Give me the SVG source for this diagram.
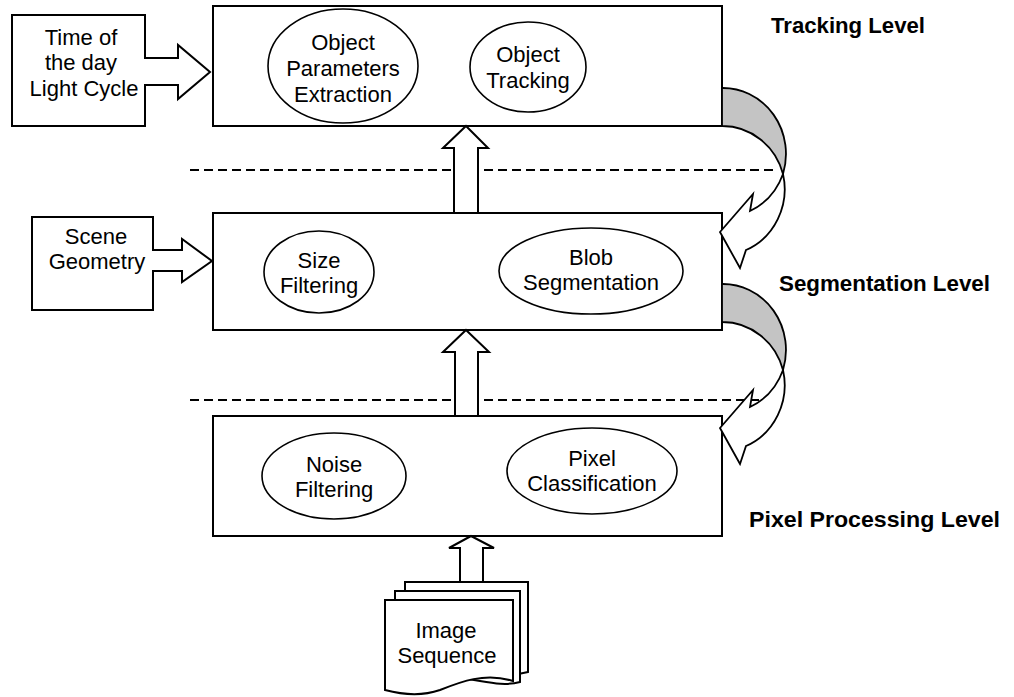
<svg xmlns="http://www.w3.org/2000/svg" width="1014" height="697" viewBox="0 0 1014 697">
<style>
.box{fill:#fff;stroke:#000;stroke-width:2}
.ell{fill:#fff;stroke:#000;stroke-width:1.6}
.blk{fill:#fff;stroke:#000;stroke-width:2;stroke-linejoin:miter}
.t{font-family:"Liberation Sans",Arial,sans-serif;font-size:22px;fill:#000;text-anchor:middle}
.lv{font-family:"Liberation Sans",Arial,sans-serif;font-size:22px;font-weight:bold;fill:#000}
.dash{stroke:#000;stroke-width:2;stroke-dasharray:9 5;fill:none}
.back{fill:#c4c4c4;stroke:#000;stroke-width:1.8}
.front{fill:#fff;stroke:#000;stroke-width:1.8;stroke-linejoin:miter}
</style>
<g id="separators">
<line class="dash" x1="190" y1="170" x2="775" y2="170"/>
<line class="dash" x1="190" y1="400" x2="775" y2="400"/>
</g>
<g id="tracking-level">
<rect class="box" x="213" y="6" width="509" height="120"/>
<g id="object-parameters-extraction">
<ellipse class="ell" cx="343" cy="66" rx="75" ry="57"/>
<text class="t" x="343" y="50">Object</text>
<text class="t" x="343" y="76">Parameters</text>
<text class="t" x="343" y="102">Extraction</text>
</g>
<g id="object-tracking">
<ellipse class="ell" cx="528" cy="67" rx="58" ry="45"/>
<text class="t" x="528" y="62">Object</text>
<text class="t" x="528" y="88">Tracking</text>
</g>
</g>
<g id="segmentation-level">
<rect class="box" x="213" y="213" width="509" height="117"/>
<g id="size-filtering">
<ellipse class="ell" cx="319" cy="272" rx="55" ry="41"/>
<text class="t" x="319" y="268">Size</text>
<text class="t" x="319" y="293">Filtering</text>
</g>
<g id="blob-segmentation">
<ellipse class="ell" cx="591" cy="271" rx="92" ry="43"/>
<text class="t" x="591" y="265">Blob</text>
<text class="t" x="591" y="290">Segmentation</text>
</g>
</g>
<g id="pixel-processing-level">
<rect class="box" x="213" y="416" width="509" height="120"/>
<g id="noise-filtering">
<ellipse class="ell" cx="334" cy="476" rx="72" ry="43"/>
<text class="t" x="334" y="472">Noise</text>
<text class="t" x="334" y="497">Filtering</text>
</g>
<g id="pixel-classification">
<ellipse class="ell" cx="592" cy="471" rx="85" ry="43"/>
<text class="t" x="592" y="466">Pixel</text>
<text class="t" x="592" y="491">Classification</text>
</g>
</g>
<g id="time-of-day">
<path class="blk" d="M12,15 H145 V58 H178 V45 L210,72 L178,99 V85 H145 V126 H12 Z"/>
<text class="t" x="81" y="45">Time of</text>
<text class="t" x="81" y="70">the day</text>
<text class="t" x="84" y="96">Light Cycle</text>
</g>
<g id="scene-geometry">
<path class="blk" d="M32,217 H153 V250 H182 V239 L212,261 L182,282 V271 H153 V310 H32 Z"/>
<text class="t" x="96" y="244">Scene</text>
<text class="t" x="97" y="269">Geometry</text>
</g>
<g id="image-sequence">
<path class="box" d="M405,582 H528 V672 C500,680 470,660 440,672 C425,678 415,678 405,676 Z"/>
<path class="box" d="M395,591 H520 V682 C492,690 462,670 432,682 C417,688 407,688 395,686 Z"/>
<path class="box" d="M385,600 H513 V681 C485,672 460,682 440,690 C420,697 400,694 385,690 Z"/>
<text class="t" x="446" y="638">Image</text>
<text class="t" x="447" y="663">Sequence</text>
</g>
<g id="connectors">
<path class="blk" d="M466,126 L488,148 H478 V213 H454 V148 H443 Z"/>
<path class="blk" d="M466,330 L489,352 H478 V416 H455 V352 H443 Z"/>
<path class="blk" d="M471,536 L494,548 H483 V582 H460 V548 H449 Z"/>
<g id="feedback-1">
<path class="back" d="M722,88 A63,66 0 0 1 783,174 A63,66 0 0 0 722,126 Z"/>
<path class="front" d="M783,174 A63,66 0 0 1 746,250 L740,268 L720,232 L753,194 L750,211 A63,66 0 0 0 783,174 Z"/>
</g>
<g id="feedback-2">
<path class="back" d="M722,284 A63,66 0 0 1 783,370 A63,66 0 0 0 722,322 Z"/>
<path class="front" d="M783,370 A63,66 0 0 1 746,446 L740,464 L720,428 L753,390 L750,407 A63,66 0 0 0 783,370 Z"/>
</g>
</g>
<g id="level-labels">
<text class="lv" x="771" y="33" textLength="154" lengthAdjust="spacingAndGlyphs">Tracking Level</text>
<text class="lv" x="779" y="291" textLength="211" lengthAdjust="spacingAndGlyphs">Segmentation Level</text>
<text class="lv" x="749" y="527" textLength="251" lengthAdjust="spacingAndGlyphs">Pixel Processing Level</text>
</g>
</svg>
